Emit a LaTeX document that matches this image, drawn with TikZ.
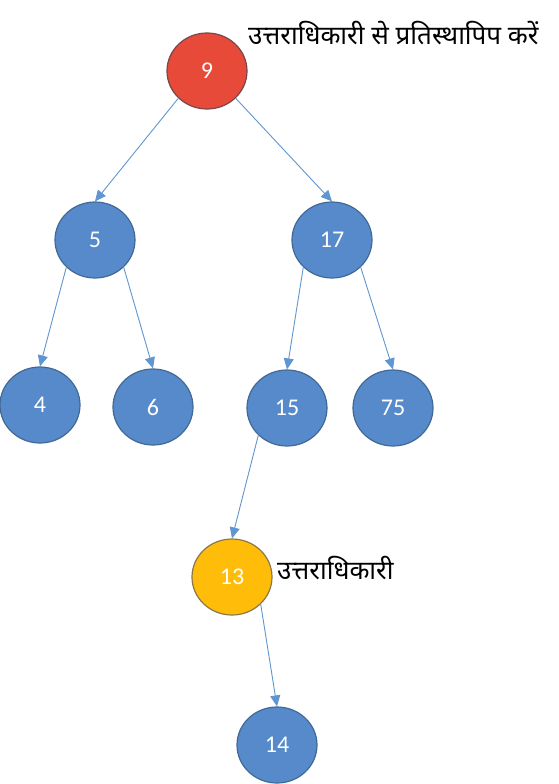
\documentclass[tikz,border=0pt]{standalone}
\usepackage{fontspec}
\setmainfont{Carlito}
\newfontfamily\hindifont[Script=Devanagari]{Noto Sans}
\usetikzlibrary{arrows.meta,shapes.geometric}
\definecolor{keyblue}{RGB}{86,138,202}
\definecolor{keyedge}{RGB}{65,105,150}
\definecolor{keyred}{RGB}{232,74,58}
\definecolor{rededge}{RGB}{120,70,75}
\definecolor{keyyellow}{RGB}{255,189,10}
\definecolor{yellowedge}{RGB}{140,120,70}
\definecolor{linkblue}{RGB}{95,150,210}
\tikzset{
	key/.style={ellipse, draw=keyedge, line width=1.2pt, fill=keyblue, minimum width=80pt, minimum height=76pt, inner sep=0pt, text=white, font=\fontsize{24}{28}\selectfont},
	link/.style={draw=linkblue, line width=0.9pt, -{Triangle[length=11pt,width=10pt]}},
	note/.style={font=\hindifont\fontsize{26}{31}\selectfont, inner sep=0pt}
}

\begin{document}
\begin{tikzpicture}[x=1pt, y=-1pt]
			%%%%% START %%%%%
			\useasboundingbox[fill=white] (0, 0) rectangle (558, 784);
			
			\node[key, fill=keyred, draw=rededge] (n9) at (207, 71) {9};
			
			\node[key] (n5) at (95, 240) {5};
			\node[key] (n17) at (332, 240) {17};
			
			\node[key] (n4) at (40, 405) {4};
			\node[key] (n6) at (153, 407) {6};
			\node[key] (n15) at (287, 408) {15};
			\node[key] (n75) at (393, 408) {75};
			
			\node[key, fill=keyyellow, draw=yellowedge] (n13) at (232, 577) {13};
			\node[key] (n14) at (277, 745) {14};
			
			\draw[link] (n9.south west) -- (n5.north);
			\draw[link] (n9.south east) -- (n17.north);
			\draw[link] (n5.south west) -- (n4.north);
			\draw[link] (n5.south east) -- (n6.north);
			\draw[link] (n17.south west) -- (n15.north);
			\draw[link] (n17.south east) -- (n75.north);
			\draw[link] (n15.south west) -- (n13.north);
			\draw[link] (n13.south east) -- (n14.north);
			
			\node[note, anchor=base west] (replace) at (248, 45) {उत्तराधिकारी से प्रतिस्थापिप करें};
			\node[note, anchor=base west] (succ) at (277, 579) {उत्तराधिकारी};
			
			%%%%% END %%%%%
\end{tikzpicture}
\end{document}
